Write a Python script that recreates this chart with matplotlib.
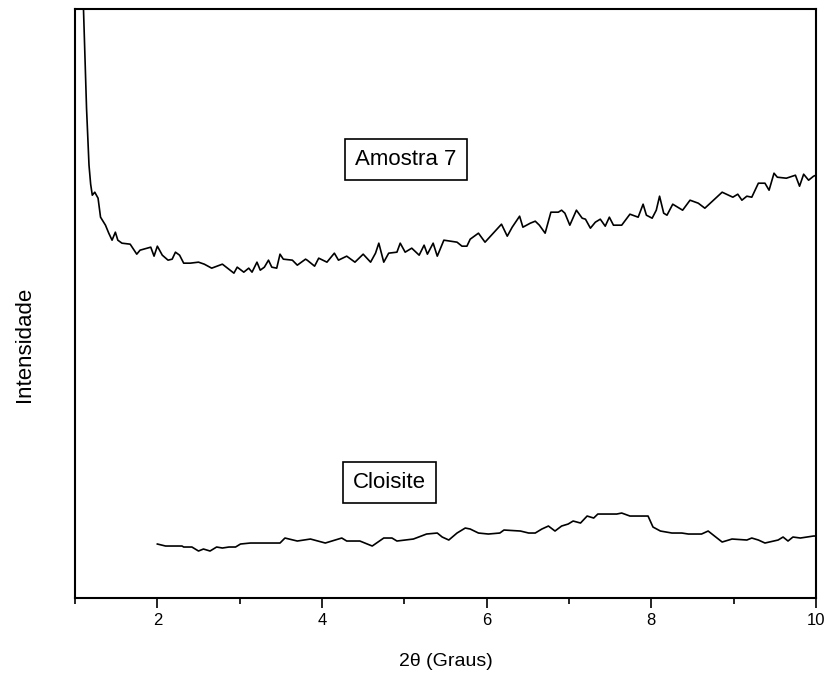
import matplotlib.pyplot as plt
import numpy as np

plt.rcParams['font.family'] = ['Liberation Sans', 'DejaVu Sans']

# Amostra 7 (2theta in degrees, intensity in arbitrary units)
amostra_x = [1.09, 1.14, 1.17, 1.19, 1.21, 1.24, 1.28, 1.31, 1.37, 1.41, 1.45, 1.49, 1.52, 1.57,
             1.67, 1.75, 1.79, 1.92, 1.96, 2.00, 2.06, 2.13, 2.18, 2.22, 2.27, 2.32, 2.40, 2.50,
             2.57, 2.66, 2.79, 2.93, 2.97, 3.05, 3.11, 3.15, 3.21, 3.25, 3.30, 3.35, 3.39, 3.45,
             3.49, 3.53, 3.64, 3.70, 3.80, 3.82, 3.91, 3.96, 4.06, 4.15, 4.20, 4.30, 4.40, 4.50,
             4.59, 4.65, 4.69, 4.75, 4.81, 4.91, 4.95, 5.01, 5.09, 5.18, 5.24, 5.28, 5.35, 5.40,
             5.48, 5.64, 5.70, 5.76, 5.80, 5.90, 5.98, 6.08, 6.18, 6.25, 6.31, 6.40, 6.44, 6.53,
             6.59, 6.64, 6.71, 6.78, 6.87, 6.91, 6.95, 7.01, 7.09, 7.16, 7.20, 7.26, 7.32, 7.38,
             7.44, 7.49, 7.54, 7.64, 7.74, 7.84, 7.90, 7.94, 8.01, 8.06, 8.10, 8.15, 8.19, 8.26,
             8.38, 8.47, 8.57, 8.65, 8.86, 8.99, 9.05, 9.10, 9.16, 9.22, 9.30, 9.38, 9.43, 9.49,
             9.53, 9.64, 9.75, 9.80, 9.85, 9.91, 9.97, 10.00]
amostra_y = [620, 486, 429, 410, 399, 402, 396, 377, 369, 361, 354, 362, 354, 351,
             350, 340, 344, 347, 338, 348, 339, 334, 335, 342, 339, 331, 331, 332,
             330, 326, 330, 321, 327, 322, 326, 322, 332, 324, 327, 334, 327, 326,
             340, 335, 334, 329, 335, 334, 328, 336, 332, 341, 334, 338, 332, 340,
             332, 341, 351, 332, 341, 342, 351, 342, 346, 339, 349, 340, 351, 338,
             354, 352, 348, 348, 355, 361, 352, 361, 370, 358, 367, 378, 367, 371,
             373, 369, 361, 382, 382, 384, 381, 369, 384, 376, 375, 366, 372, 375,
             368, 377, 369, 369, 380, 377, 390, 379, 376, 384, 398, 381, 379, 390,
             384, 394, 391, 386, 402, 397, 400, 394, 398, 397, 411, 411, 404, 421,
             417, 416, 419, 408, 420, 414, 418, 419]

# Cloisite
cloisite_x = [2.00, 2.10, 2.30, 2.32, 2.42, 2.50, 2.56, 2.64, 2.72, 2.79, 2.87, 2.95, 3.01, 3.13,
              3.21, 3.49, 3.55, 3.70, 3.86, 4.04, 4.24, 4.30, 4.46, 4.61, 4.75, 4.85, 4.91, 5.11,
              5.27, 5.40, 5.46, 5.54, 5.64, 5.74, 5.80, 5.90, 6.02, 6.16, 6.21, 6.41, 6.51, 6.59,
              6.67, 6.75, 6.83, 6.91, 6.99, 7.05, 7.14, 7.22, 7.30, 7.35, 7.58, 7.64, 7.74, 7.96,
              8.02, 8.11, 8.25, 8.37, 8.45, 8.61, 8.69, 8.86, 8.98, 9.16, 9.22, 9.30, 9.38, 9.54,
              9.60, 9.66, 9.72, 9.81, 9.97, 10.00]
cloisite_y = [50, 48, 48, 47, 47, 43, 45, 43, 47, 46, 47, 47, 50, 51,
              51, 51, 56, 53, 55, 51, 56, 53, 53, 48, 56, 56, 53, 55,
              60, 61, 57, 54, 61, 66, 65, 61, 60, 61, 64, 63, 61, 61,
              65, 68, 63, 68, 70, 73, 71, 78, 76, 80, 80, 81, 78, 78,
              67, 63, 61, 61, 60, 60, 63, 52, 55, 54, 56, 54, 51, 54,
              57, 53, 57, 56, 58, 58]

labels = ['Amostra 7', 'Cloisite']
label_pos = [(5.02, 435), (4.82, 112)]

fig = plt.figure(figsize=(8.27, 6.78), dpi=100)
ax = fig.add_axes([0.0907, 0.118, 0.896, 0.8683])

ax.plot(amostra_x, amostra_y, color='black', lw=1.2)
ax.plot(cloisite_x, cloisite_y, color='black', lw=1.2)

for txt, (tx, ty) in zip(labels, label_pos):
    ax.text(tx, ty, txt, fontsize=16, ha='center', va='center',
            bbox=dict(boxstyle='square,pad=0.45', fc='white', ec='black', lw=1.2))

ax.set_xlim(1, 10)
ax.set_ylim(-4, 585)
ax.set_xticks([2, 4, 6, 8, 10])
ax.set_xticks([1, 3, 5, 7, 9], minor=True)
ax.set_yticks([])
ax.tick_params(axis='x', which='major', direction='out', length=7, width=1.2,
               labelsize=12, pad=4)
ax.tick_params(axis='x', which='minor', direction='out', length=4, width=1.2)
for s in ax.spines.values():
    s.set_linewidth(1.5)

ax.set_xlabel('2θ (Graus)', fontsize=14, labelpad=18)
ax.set_ylabel('Intensidade', fontsize=16)
ax.yaxis.set_label_coords(-0.054, 0.43)

fig.savefig('out.png', dpi=100)
